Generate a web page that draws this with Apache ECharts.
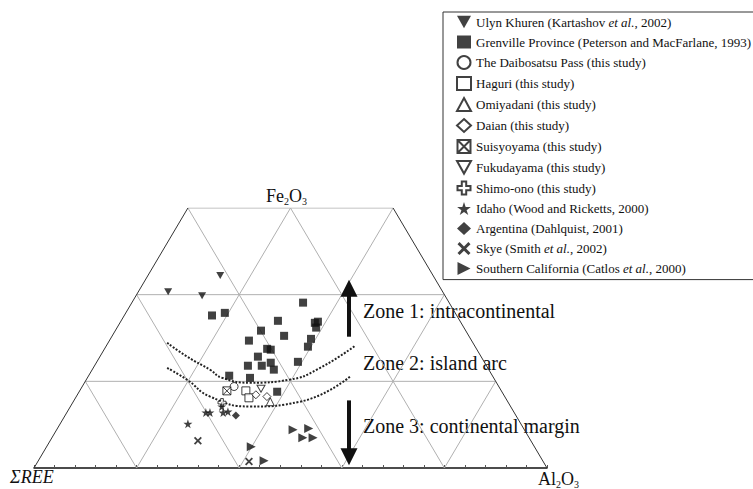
<!DOCTYPE html>
<html>
<head>
<meta charset="utf-8">
<script src="https://cdn.jsdelivr.net/npm/echarts@6/dist/echarts.min.js"></script>
<style>
html,body{margin:0;padding:0;background:#fff}
#chart{width:753px;height:489px}
</style>
</head>
<body>
<div id="chart"></div>
<script>
// Compositions in percent, each point as [ΣREE, Fe2O3, Al2O3]
const ulynKhuren = [[41.5,44.4,14.1],[53.5,40.7,5.8],[47.4,39.8,12.9]];
const grenvilleProvince = [
  [47.7,35.2,17.1],[44.9,35.8,19.3],[28.5,38.2,33.4],[35.5,34.0,30.6],[28.5,33.5,38.0],
  [27.8,33.8,38.5],[28.8,32.4,38.8],[39.9,31.7,28.4],[36.0,30.5,33.5],[31.1,29.8,39.1],
  [43.4,29.4,27.2],[32.6,28.0,39.4],[40.8,27.5,31.7],[40.2,27.3,32.5],[43.5,25.7,30.8],
  [36.3,24.5,39.2],[41.7,24.3,34.0],[43.8,23.6,32.6],[46.5,23.6,29.9],[41.9,22.7,35.4],
  [51.3,21.3,27.4],[47.5,20.8,31.7],[43.8,17.6,38.6]
];
const daibosatsuPass = [[51.6,18.8,29.6]];
const haguri = [[49.8,17.8,32.4],[50.0,16.2,33.8]];
const omiyadani = [[46.3,15.3,38.4]];
const daian = [[48.3,16.9,34.8],[46.4,16.5,37.2]];
const suisyoyama = [[53.5,17.8,28.7]];
const fukudayama = [[46.6,18.3,35.1]];
const shimoOno = [[55.8,15.1,29.1]];
const idaho = [[64.9,10.2,24.9],[60.1,12.8,27.1],[59.3,12.8,27.9],[56.3,14.2,29.5],[56.8,12.8,30.5],[55.7,13.0,31.3]];
const argentina = [[54.6,12.1,33.3]];
const skye = [[64.9,6.3,28.8],[57.4,1.5,41.2]];
const southernCalifornia = [[45.1,8.8,46.1],[41.9,9.1,49.0],[44.1,7.0,48.9],[42.1,7.0,50.9],[55.2,4.9,39.9],[54.3,1.7,44.0]];

// Zone boundaries, [ΣREE, Fe2O3, Al2O3]
const boundaryUpper = [[59.6,28.9,11.5],[57.3,25.7,17.0],[54.4,22.7,23.0],[52.9,20.8,26.2],[48.1,19.7,32.3],[39.9,20.4,39.7],[33.5,22.7,43.8],[23.3,28.2,48.5]];
const boundaryLower = [[62.5,23.1,14.4],[60.0,20.4,19.6],[57.5,16.5,26.1],[50.8,14.2,35.0],[40.5,15.3,44.2],[27.9,21.1,51.1]];

// Diagram frame
const gridStep = 20;   // ternary grid spacing, %
const tickStep = 4;    // minor ticks on the base, %
const feTop = 60;      // the diagram is cut at 60 % Fe2O3

const serif = 'Liberation Serif';

// ternary -> cartesian: x = Al + Fe/2, y = Fe (the y axis carries Fe directly)
function toXY(p) {
  const s = p[0] + p[1] + p[2];
  const fe = p[1] / s * 100, al = p[2] / s * 100;
  return [al + fe / 2, fe];
}

function segment(a, b, color, width) {
  return {
    type: 'line', data: [a, b], symbol: 'none', silent: true, z: 1,
    lineStyle: { color: color, width: width }, animation: false
  };
}

const frameSeries = [];
// horizontal lines (constant Fe2O3)
for (let f = gridStep; f <= feTop; f += gridStep) {
  frameSeries.push(segment([f / 2, f], [100 - f / 2, f], '#b0b0b0', 1));
}
// constant Al2O3
for (let a = gridStep; a < 100; a += gridStep) {
  const ft = Math.min(feTop, 100 - a);
  frameSeries.push(segment([a, 0], [a + ft / 2, ft], '#b0b0b0', 1));
}
// constant ΣREE
for (let r = gridStep; r < 100; r += gridStep) {
  const ft = Math.min(feTop, 100 - r);
  frameSeries.push(segment([100 - r, 0], [100 - r - ft / 2, ft], '#b0b0b0', 1));
}
// outer edges
frameSeries.push(segment([0, 0], [feTop / 2, feTop], '#333', 1));
frameSeries.push(segment([100, 0], [100 - feTop / 2, feTop], '#333', 1));

const boundarySeries = [boundaryUpper, boundaryLower].map(c => ({
  type: 'line', data: c.map(toXY), symbol: 'none', smooth: 0.5, silent: true, z: 2,
  lineStyle: { color: '#222', width: 2, type: [2, 1.6] }, animation: false
}));

const arrowSeries = {
  type: 'line', data: [], silent: true, z: 3, animation: false,
  markLine: {
    silent: true, animation: false,
    symbol: ['none', 'triangle'], symbolSize: [17, 17],
    label: { show: false },
    lineStyle: { color: '#111', width: 4, type: 'solid' },
    data: [
      [{ coord: [61.4, 30.3] }, { coord: [61.4, 41.5] }],
      [{ coord: [61.4, 15.6] }, { coord: [61.4, 2.6] }]
    ]
  }
};

const S = {
  triDown: 'path://M0,0L10,0L5,9Z',
  triRight: 'path://M0,0L10,5L0,10Z',
  boxX: 'path://M0,0H10V10H0Z M0,0L10,10 M10,0L0,10',
  plus: 'path://M3.3,0H6.7V3.3H10V6.7H6.7V10H3.3V6.7H0V3.3H3.3Z',
  star: 'path://M5,0L6.2,3.6L10,3.6L6.9,5.9L8.1,9.5L5,7.3L1.9,9.5L3.1,5.9L0,3.6L3.8,3.6Z',
  cross: 'path://M0,1.6L1.6,0L5,3.4L8.4,0L10,1.6L6.6,5L10,8.4L8.4,10L5,6.6L1.6,10L0,8.4L3.4,5Z'
};

const groups = [
  { name: 'Ulyn Khuren (Kartashov et al., 2002)', data: ulynKhuren, symbol: S.triDown, size: [8, 7], solid: true },
  { name: 'Grenville Province (Peterson and MacFarlane, 1993)', data: grenvilleProvince, symbol: 'rect', size: 8, solid: true },
  { name: 'The Daibosatsu Pass (this study)', data: daibosatsuPass, symbol: 'circle', size: 8 },
  { name: 'Haguri (this study)', data: haguri, symbol: 'rect', size: 8 },
  { name: 'Omiyadani (this study)', data: omiyadani, symbol: 'triangle', size: 8 },
  { name: 'Daian (this study)', data: daian, symbol: 'diamond', size: 8 },
  { name: 'Suisyoyama (this study)', data: suisyoyama, symbol: S.boxX, size: 8 },
  { name: 'Fukudayama (this study)', data: fukudayama, symbol: S.triDown, size: [8, 7] },
  { name: 'Shimo-ono (this study)', data: shimoOno, symbol: S.plus, size: 8 },
  { name: 'Idaho (Wood and Ricketts, 2000)', data: idaho, symbol: S.star, size: 9, solid: true },
  { name: 'Argentina (Dahlquist, 2001)', data: argentina, symbol: 'diamond', size: 8, solid: true },
  { name: 'Skye (Smith et al., 2002)', data: skye, symbol: S.cross, size: 8, solid: true },
  { name: 'Southern California (Catlos et al., 2000)', data: southernCalifornia, symbol: S.triRight, size: 9, solid: true }
];

const pointSeries = groups.map(g => ({
  type: 'scatter', name: g.name, data: g.data.map(toXY),
  symbol: g.symbol, symbolSize: g.size, z: 5, animation: false,
  itemStyle: g.solid
    ? { color: '#111', borderColor: '#111', borderWidth: 0 }
    : { color: '#fff', borderColor: '#111', borderWidth: 1 }
}));

// legend label: roman text with "et al." set in italics
function legendLabel(name) {
  return name.split('et al.').map(s => s ? '{n|' + s + '}' : '').join('{i|et al.}');
}

const chart = echarts.init(document.getElementById('chart'), null, { renderer: 'svg' });

chart.setOption({
  animation: false,
  backgroundColor: '#fff',
  grid: { left: 34, right: 206, top: 208, bottom: 21 },
  xAxis: {
    type: 'value', min: 0, max: 100, interval: tickStep,
    axisLine: { show: true, lineStyle: { color: '#111', width: 1.5 } },
    axisTick: { show: true, inside: true, length: 3, lineStyle: { color: '#555', width: 1 } },
    axisLabel: { show: false }, splitLine: { show: false }
  },
  yAxis: {
    type: 'value', min: 0, max: feTop, show: false, splitLine: { show: false }
  },
  legend: {
    orient: 'vertical', left: 443, top: 12,
    padding: [3, 8, 4, 13],
    borderColor: '#333', borderWidth: 1,
    itemWidth: 14, itemHeight: 13, itemGap: 6,
    selectedMode: false,
    data: groups.map(g => g.name),
    formatter: legendLabel,
    textStyle: {
      fontFamily: serif, fontSize: 13, color: '#111', lineHeight: 14,
      rich: {
        n: { fontFamily: serif, fontSize: 13, color: '#111', lineHeight: 14 },
        i: { fontFamily: serif, fontSize: 13, fontStyle: 'italic', color: '#111', lineHeight: 14 }
      }
    }
  },
  graphic: [
    {
      type: 'text', x: 266, y: 196, silent: true,
      style: {
        text: '{a|Fe}{s|2}{a|O}{s|3}', verticalAlign: 'middle',
        rich: {
          a: { fontFamily: serif, fontSize: 18, fill: '#111', lineHeight: 20 },
          s: { fontFamily: serif, fontSize: 10, fill: '#111', lineHeight: 20, verticalAlign: 'bottom' }
        }
      }
    },
    {
      type: 'text', x: 10, y: 477, silent: true,
      style: { text: 'ΣREE', fontFamily: serif, fontSize: 18, fontStyle: 'italic', fill: '#111', verticalAlign: 'middle' }
    },
    {
      type: 'text', x: 538, y: 479, silent: true,
      style: {
        text: '{a|Al}{s|2}{a|O}{s|3}', verticalAlign: 'middle',
        rich: {
          a: { fontFamily: serif, fontSize: 18, fill: '#111', lineHeight: 20 },
          s: { fontFamily: serif, fontSize: 10, fill: '#111', lineHeight: 20, verticalAlign: 'bottom' }
        }
      }
    },
    { type: 'text', x: 363, y: 311, silent: true, style: { text: 'Zone 1: intracontinental', fontFamily: serif, fontSize: 20, fill: '#111', verticalAlign: 'middle' } },
    { type: 'text', x: 363, y: 363, silent: true, style: { text: 'Zone 2: island arc', fontFamily: serif, fontSize: 20, fill: '#111', verticalAlign: 'middle' } },
    { type: 'text', x: 363, y: 426, silent: true, style: { text: 'Zone 3: continental margin', fontFamily: serif, fontSize: 20, fill: '#111', verticalAlign: 'middle' } }
  ],
  series: [].concat(frameSeries, boundarySeries, [arrowSeries], pointSeries)
});
</script>
</body>
</html>
